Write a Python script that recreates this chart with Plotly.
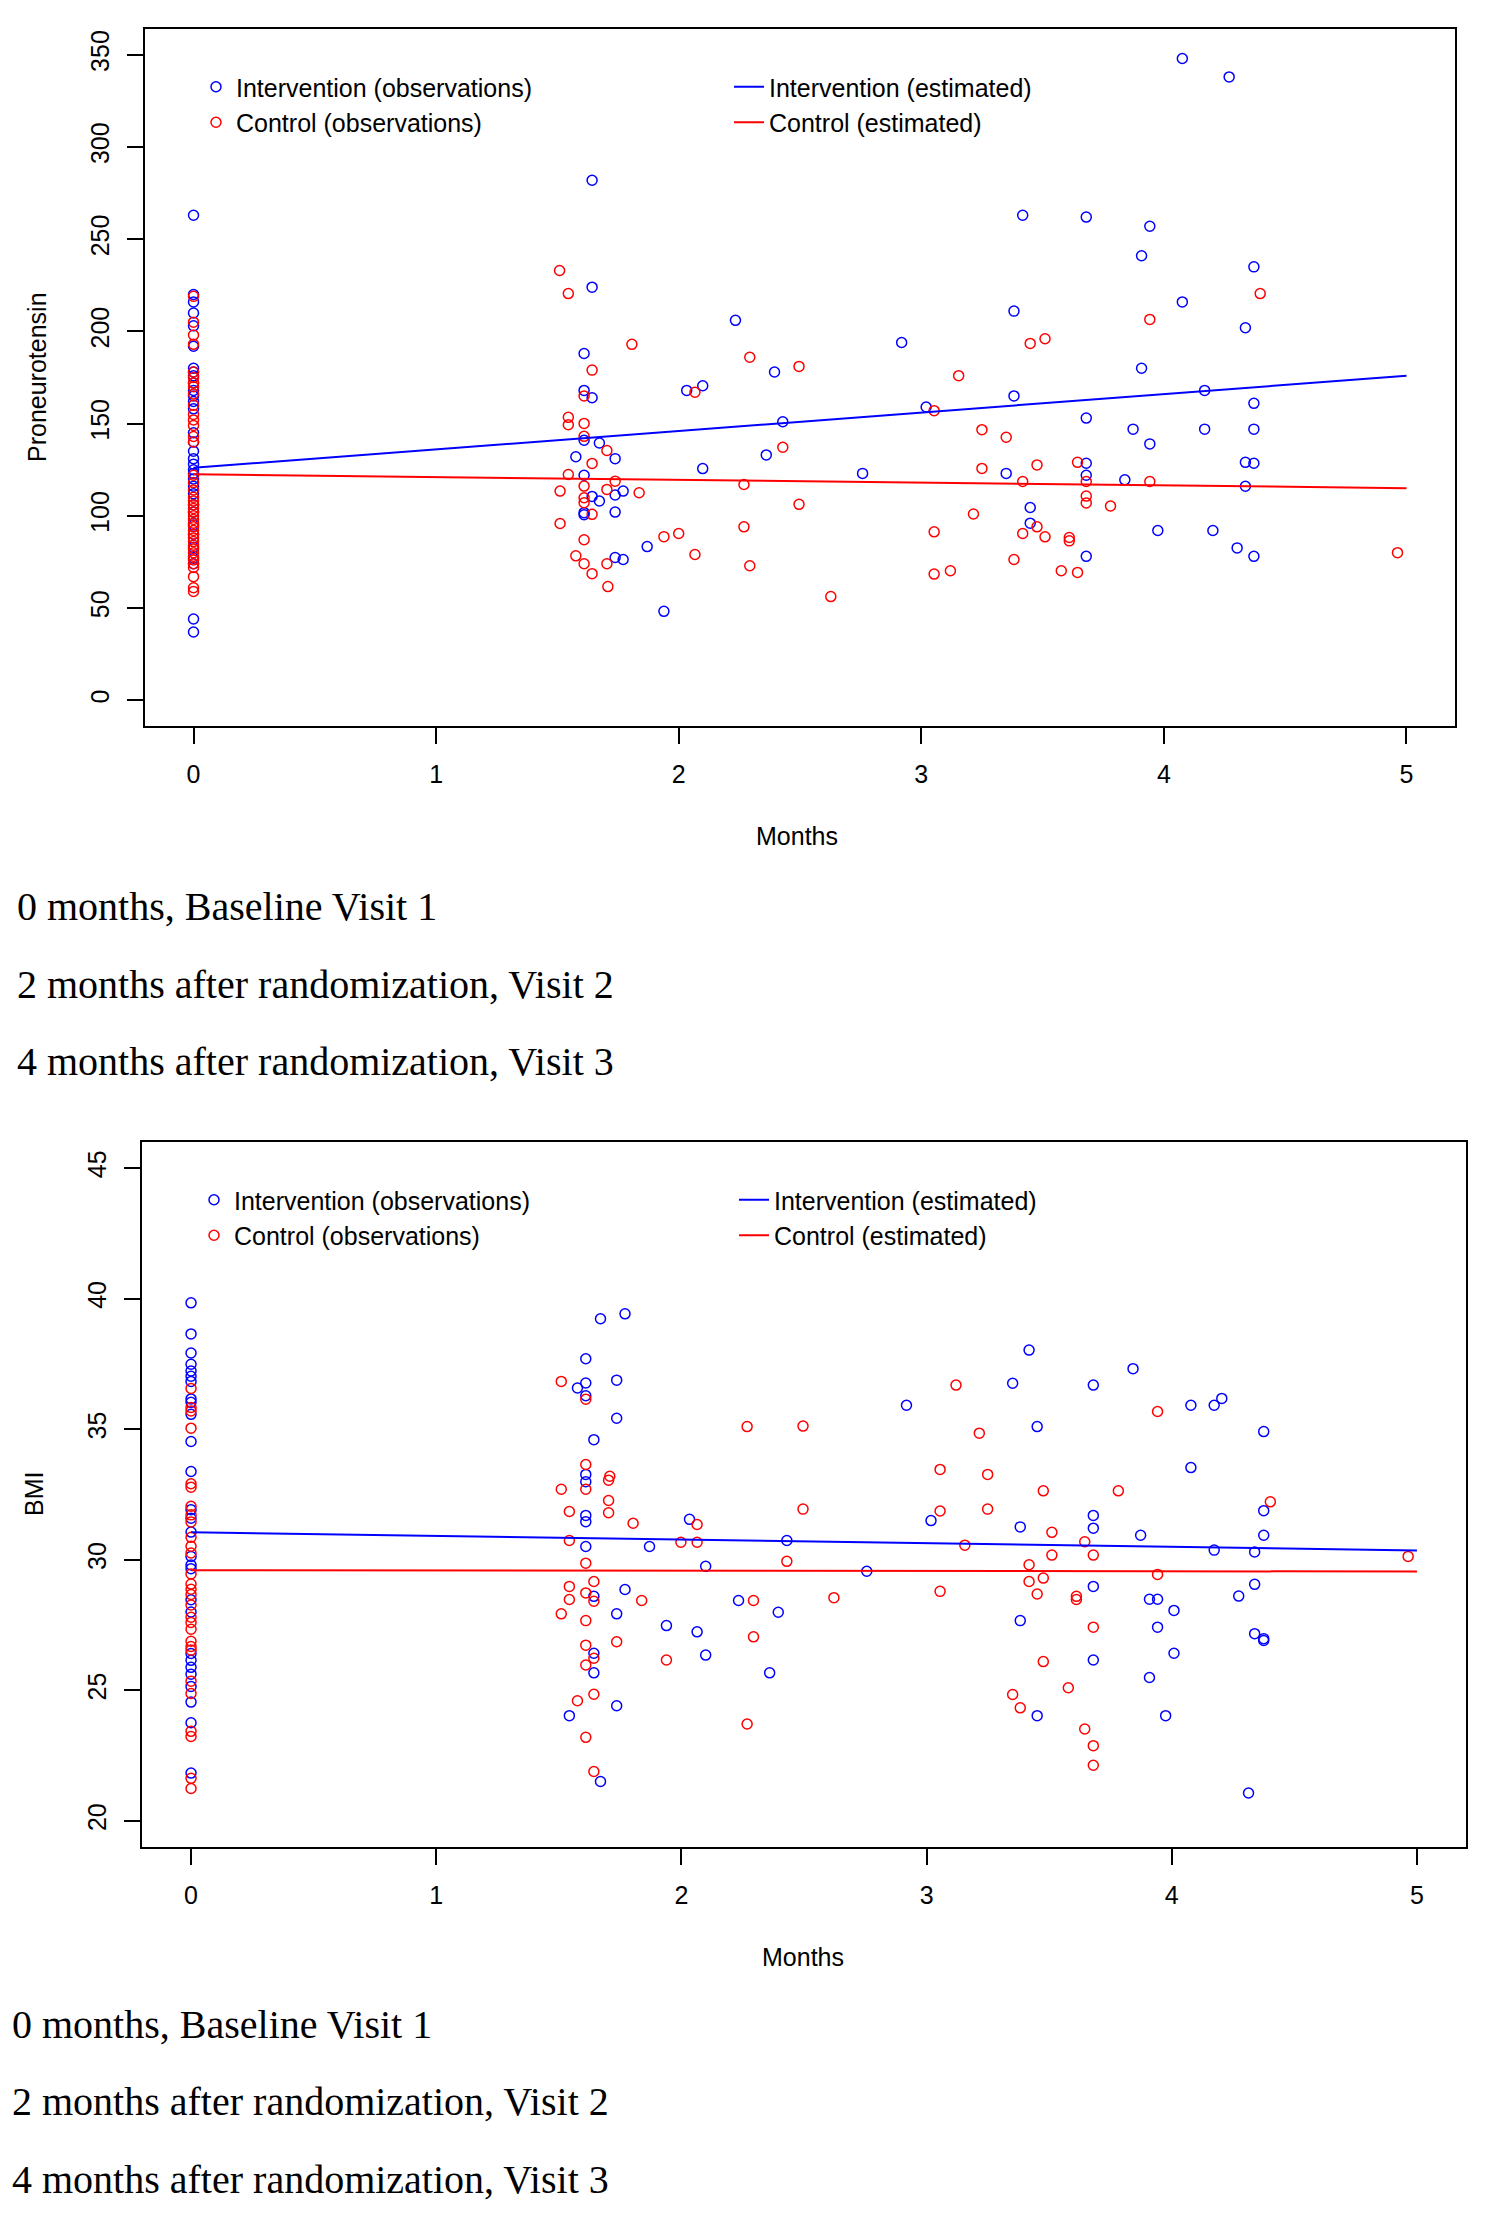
import plotly.graph_objects as go

# ---------------- Top panel: Proneurotensin ----------------
# Baseline (month 0) observations
pn_int_m0 = [263, 220, 216, 210, 203, 192, 180, 178, 176, 172, 168, 165, 162, 158, 145, 140, 135,
             131, 128, 125, 123, 120, 116, 112, 106, 102, 95, 90, 83, 77, 74, 44, 37]
pn_ctl_m0 = [219, 205, 198, 193, 178, 175, 172, 170, 166, 160, 155, 152, 149, 143, 140, 122, 118,
             114, 110, 108, 106, 104, 102, 100, 98, 96, 94, 92, 90, 88, 86, 84, 82, 80, 78, 76,
             74, 72, 67, 61, 59]

# Follow-up observations (months, value)
pn_int_x = [1.643, 1.643, 2.234, 1.61, 1.61, 1.643, 2.033, 2.099,
            4.076, 4.269, 3.418, 3.68, 3.942, 3.908, 4.371, 4.076, 3.382, 4.336, 2.919, 2.395,
            3.908, 3.382, 4.168, 4.371, 3.02, 2.429, 3.68,
            3.873, 4.168, 4.371, 3.942, 2.361, 2.758, 3.35, 3.68, 3.68, 4.336, 4.371, 3.839,
            4.336, 3.449, 3.449, 3.975, 4.202, 4.302, 3.68, 4.371,
            1.61, 1.673, 1.576, 1.738, 2.099, 1.61, 1.771, 1.643, 1.673, 1.738, 1.61, 1.61,
            1.738, 1.87, 1.738, 1.771, 1.939]
pn_int_y = [282, 224, 206, 188, 168, 164, 168, 170.5,
            348, 338, 263, 262, 257, 241, 235, 216, 211, 202, 194, 178,
            180, 165, 168, 161, 159, 151, 153,
            147, 147, 147, 139, 133, 123, 123, 128.5, 122, 129, 128.5, 119.5,
            116, 104.5, 96, 92, 92, 82.6, 78, 78,
            141, 139.5, 132, 131, 125.6, 122, 113.4, 110.5, 108, 111.3, 101.7, 100.6,
            102, 83.3, 77.4, 76.3, 48.2]

pn_ctl_x = [1.509, 1.545, 1.807, 1.643, 1.61, 2.067, 2.293,
            4.397, 3.942, 3.449, 3.51, 2.496, 3.154, 3.053,
            3.25, 3.35, 2.429, 3.25, 3.477, 3.644, 2.269, 3.418, 3.68, 3.942, 3.68, 3.68,
            2.496, 3.78, 3.215, 3.477, 2.269, 3.053, 3.418, 3.51, 3.61, 3.61, 4.963, 3.382,
            2.293, 3.053, 3.12, 3.577, 3.644, 2.627,
            1.545, 1.545, 1.61, 1.61, 1.704, 1.643, 1.545, 1.61, 1.738, 1.704, 1.511, 1.837,
            1.61, 1.61, 1.643, 1.511, 1.61, 1.939, 2.0, 2.067, 1.576, 1.61, 1.704, 1.643, 1.708]
pn_ctl_y = [233, 220.5, 193, 179, 165, 167, 186,
            220.5, 206.5, 193.5, 196, 181, 176, 157,
            146.7, 142.6, 137.2, 125.7, 127.6, 129, 117, 118.6, 118.6, 118.6, 110.7, 107,
            106.2, 105.3, 101, 94, 94, 91.3, 90.4, 88.6, 88.2, 86.4, 80, 76.3,
            72.9, 68.4, 70.2, 70.2, 69.3, 56.2,
            153.4, 149.4, 150.1, 143.1, 135.4, 128.4, 122.4, 116.1, 118.8, 114.3, 113.4, 112.5,
            109.8, 107.1, 100.8, 95.8, 87, 88.7, 90.4, 79, 78.3, 74, 74, 68.6, 61.6]

# Estimated trajectories (endpoints at 0 and 5 months)
est_months = [0, 5]
pn_int_est = [126, 176]
pn_ctl_est = [122.5, 115]

# ---------------- Bottom panel: BMI ----------------
bmi_int_m0 = [39.84, 38.65, 37.92, 37.49, 37.23, 37.03, 36.83, 36.16, 36.03, 35.57, 34.53, 33.38,
              31.92, 31.59, 31.06, 30.13, 29.8, 29.66, 28.47, 28.0, 26.41, 26.15, 25.88, 25.62,
              25.15, 24.55, 23.76, 21.83]
bmi_ctl_m0 = [36.56, 35.83, 35.7, 35.04, 32.91, 32.78, 32.05, 31.72, 31.45, 30.86, 30.52, 30.26,
              29.46, 29.07, 28.87, 28.67, 28.27, 27.8, 27.6, 27.34, 26.88, 26.68, 26.54, 25.35,
              24.88, 23.43, 23.23, 21.63, 21.24]

bmi_int_x = [1.770, 1.670, 1.610, 1.576, 1.610, 1.736, 1.610, 1.736, 1.643, 1.610, 1.610, 1.610, 2.033,
             3.418, 3.842, 3.351, 3.68, 2.918, 4.078, 4.173, 4.204, 3.451, 4.375, 4.078, 3.68, 4.375, 3.018,
             1.610, 1.610, 1.87, 2.43, 2.099, 1.643, 1.770, 2.233, 1.736, 2.395, 1.939, 2.064, 1.643,
             2.099, 1.643, 2.36, 1.736, 1.543, 1.670,
             3.382, 3.68, 3.873, 4.375, 4.173, 4.338, 2.756, 3.68, 4.338, 3.909, 3.942, 4.273, 4.009,
             3.382, 3.942, 4.338, 4.375, 4.375, 4.009, 3.68, 3.909, 3.451, 3.975, 4.313]
bmi_int_y = [39.42, 39.23, 37.7, 36.58, 36.77, 36.88, 36.28, 35.42, 34.6, 33.27, 32.99, 31.7, 31.55,
             38.03, 37.32, 36.76, 36.69, 35.92, 35.92, 35.92, 36.18, 35.1, 34.91, 33.53, 31.7, 31.88, 31.5,
             31.46, 30.51, 30.51, 30.74, 29.75, 28.6, 28.86, 28.44, 27.93, 27.99, 27.48, 27.24, 26.42,
             26.35, 25.67, 25.67, 24.41, 24.03, 21.51,
             31.26, 31.21, 30.94, 30.94, 30.37, 30.3, 29.56, 28.98, 29.06, 28.49, 28.49, 28.61, 28.06,
             27.67, 27.42, 27.17, 26.98, 26.91, 26.42, 26.16, 25.49, 24.03, 24.03, 21.07]

bmi_ctl_x = [1.510, 1.610, 2.268, 2.496, 1.610, 1.708, 1.703, 1.510, 1.610, 1.703, 1.543, 1.703, 1.803, 2.064,
             3.12, 3.942, 3.215, 3.055, 3.249, 3.476, 3.782, 2.496, 3.055, 3.249, 4.402,
             1.543, 1.998, 2.064, 1.610, 2.43, 1.643, 1.543, 1.610, 1.643, 1.543, 1.838, 2.294, 1.510,
             1.610, 2.294, 1.736, 1.610, 1.643, 1.939, 1.610, 1.643, 1.576, 2.268, 1.610, 1.643,
             3.511, 3.645, 3.156, 3.511, 3.68, 4.964, 3.418, 3.942, 3.476, 3.418, 3.055, 3.451, 3.611,
             3.611, 2.622, 3.68, 3.476, 3.578, 3.351, 3.382, 3.645, 3.68, 3.68]
bmi_ctl_y = [36.83, 36.15, 35.1, 35.12, 33.65, 33.2, 33.05, 32.7, 32.7, 32.27, 31.85, 31.8, 31.4, 31.35,
             36.69, 35.68, 34.85, 33.46, 33.27, 32.64, 32.64, 31.94, 31.87, 31.94, 32.22,
             30.74, 30.67, 30.67, 29.87, 29.94, 29.17, 28.98, 28.73, 28.41, 28.48, 28.44, 28.44, 27.93,
             27.67, 27.05, 26.86, 26.73, 26.23, 26.16, 25.97, 24.85, 24.6, 23.71, 23.2, 21.89,
             31.05, 30.69, 30.56, 30.18, 30.18, 30.13, 29.81, 29.44, 29.3, 29.17, 28.79, 28.69, 28.6,
             28.48, 28.55, 27.42, 26.1, 25.1, 24.84, 24.33, 23.52, 22.88, 22.13]

bmi_int_est = [31.05, 30.36]
bmi_ctl_est = [29.6, 29.55]

x_ticks = [0, 1, 2, 3, 4, 5]
pn_ticks = [0, 50, 100, 150, 200, 250, 300, 350]
bmi_ticks = [20, 25, 30, 35, 40, 45]

notes = ["0 months, Baseline Visit 1",
         "2 months after randomization, Visit 2",
         "4 months after randomization, Visit 3"]

# ---------------- Figure ----------------
W, H = 1488, 2225
BLUE = "#0000FF"
RED = "#FF0000"
SANS = "Liberation Sans, Arial, sans-serif"
SERIF = "Liberation Serif, Times New Roman, serif"


def px_x(p):
    return p / W


def px_y(p):
    return 1 - p / H


fig = go.Figure()

marker_int = dict(symbol="circle-open", size=10, color=BLUE, line=dict(width=1.5, color=BLUE))
marker_ctl = dict(symbol="circle-open", size=10, color=RED, line=dict(width=1.5, color=RED))

panels = [
    dict(xa="x", ya="y", legend="legend",
         int_x=[0] * len(pn_int_m0) + pn_int_x, int_y=pn_int_m0 + pn_int_y,
         ctl_x=[0] * len(pn_ctl_m0) + pn_ctl_x, ctl_y=pn_ctl_m0 + pn_ctl_y,
         int_est=pn_int_est, ctl_est=pn_ctl_est),
    dict(xa="x2", ya="y2", legend="legend2",
         int_x=[0] * len(bmi_int_m0) + bmi_int_x, int_y=bmi_int_m0 + bmi_int_y,
         ctl_x=[0] * len(bmi_ctl_m0) + bmi_ctl_x, ctl_y=bmi_ctl_m0 + bmi_ctl_y,
         int_est=bmi_int_est, ctl_est=bmi_ctl_est),
]

for p in panels:
    fig.add_trace(go.Scatter(x=p["int_x"], y=p["int_y"], mode="markers", marker=marker_int,
                             name="Intervention (observations)", legend=p["legend"], legendrank=1,
                             xaxis=p["xa"], yaxis=p["ya"]))
    fig.add_trace(go.Scatter(x=p["ctl_x"], y=p["ctl_y"], mode="markers", marker=marker_ctl,
                             name="Control (observations)", legend=p["legend"], legendrank=3,
                             xaxis=p["xa"], yaxis=p["ya"]))
    fig.add_trace(go.Scatter(x=est_months, y=p["int_est"], mode="lines",
                             line=dict(color=BLUE, width=2),
                             name="Intervention (estimated)", legend=p["legend"], legendrank=2,
                             xaxis=p["xa"], yaxis=p["ya"]))
    fig.add_trace(go.Scatter(x=est_months, y=p["ctl_est"], mode="lines",
                             line=dict(color=RED, width=2),
                             name="Control (estimated)", legend=p["legend"], legendrank=4,
                             xaxis=p["xa"], yaxis=p["ya"]))

axis_common = dict(showline=True, linecolor="black", linewidth=1.5, mirror=True,
                   ticks="outside", ticklen=16, tickwidth=1.5, tickcolor="black",
                   showgrid=False, zeroline=False, automargin=False,
                   tickfont=dict(family=SANS, size=25, color="black"))

legend_common = dict(orientation="h", entrywidthmode="pixels", xanchor="left", yanchor="top",
                     font=dict(family=SANS, size=25, color="black"),
                     bgcolor="rgba(0,0,0,0)", itemclick=False, traceorder="normal")

fig.update_layout(
    width=W, height=H,
    margin=dict(l=0, r=0, t=0, b=0),
    paper_bgcolor="white", plot_bgcolor="white",
    showlegend=True,
    xaxis=dict(domain=[px_x(145), px_x(1455)], range=[-0.2, 5.2], tickvals=x_ticks,
               anchor="y", ticklabelstandoff=9, **axis_common),
    yaxis=dict(domain=[px_y(726), px_y(29)], range=[-14, 364], tickvals=pn_ticks,
               anchor="x", tickangle=-90, ticklabelstandoff=8, **axis_common),
    xaxis2=dict(domain=[px_x(142), px_x(1466)], range=[-0.2, 5.2], tickvals=x_ticks,
                anchor="y2", ticklabelstandoff=9, **axis_common),
    yaxis2=dict(domain=[px_y(1847), px_y(1142)], range=[19, 46], tickvals=bmi_ticks,
                anchor="x2", tickangle=-90, ticklabelstandoff=8, **axis_common),
    legend=dict(x=px_x(196), y=px_y(64), entrywidth=488, **legend_common),
    legend2=dict(x=px_x(194), y=px_y(1177), entrywidth=495, **legend_common),
)

annotations = [
    dict(text="Months", x=px_x(797), y=px_y(836)),
    dict(text="Proneurotensin", x=px_x(37), y=px_y(377), textangle=-90),
    dict(text="Months", x=px_x(803), y=px_y(1957)),
    dict(text="BMI", x=px_x(34), y=px_y(1494), textangle=-90),
]
for a in annotations:
    fig.add_annotation(xref="paper", yref="paper", showarrow=False, xanchor="center", yanchor="middle",
                       font=dict(family=SANS, size=25, color="black"), **a)

for ys, x0 in (((907, 984, 1061), 15), ((2024, 2101, 2179), 10)):
    for txt, yy in zip(notes, ys):
        fig.add_annotation(xref="paper", yref="paper", showarrow=False, xanchor="left", yanchor="middle",
                           x=px_x(x0), y=px_y(yy), text=txt,
                           font=dict(family=SERIF, size=40, color="black"))

fig.write_html("out.html", config={"displayModeBar": False},
               post_script="document.body.style.margin='0px';")
